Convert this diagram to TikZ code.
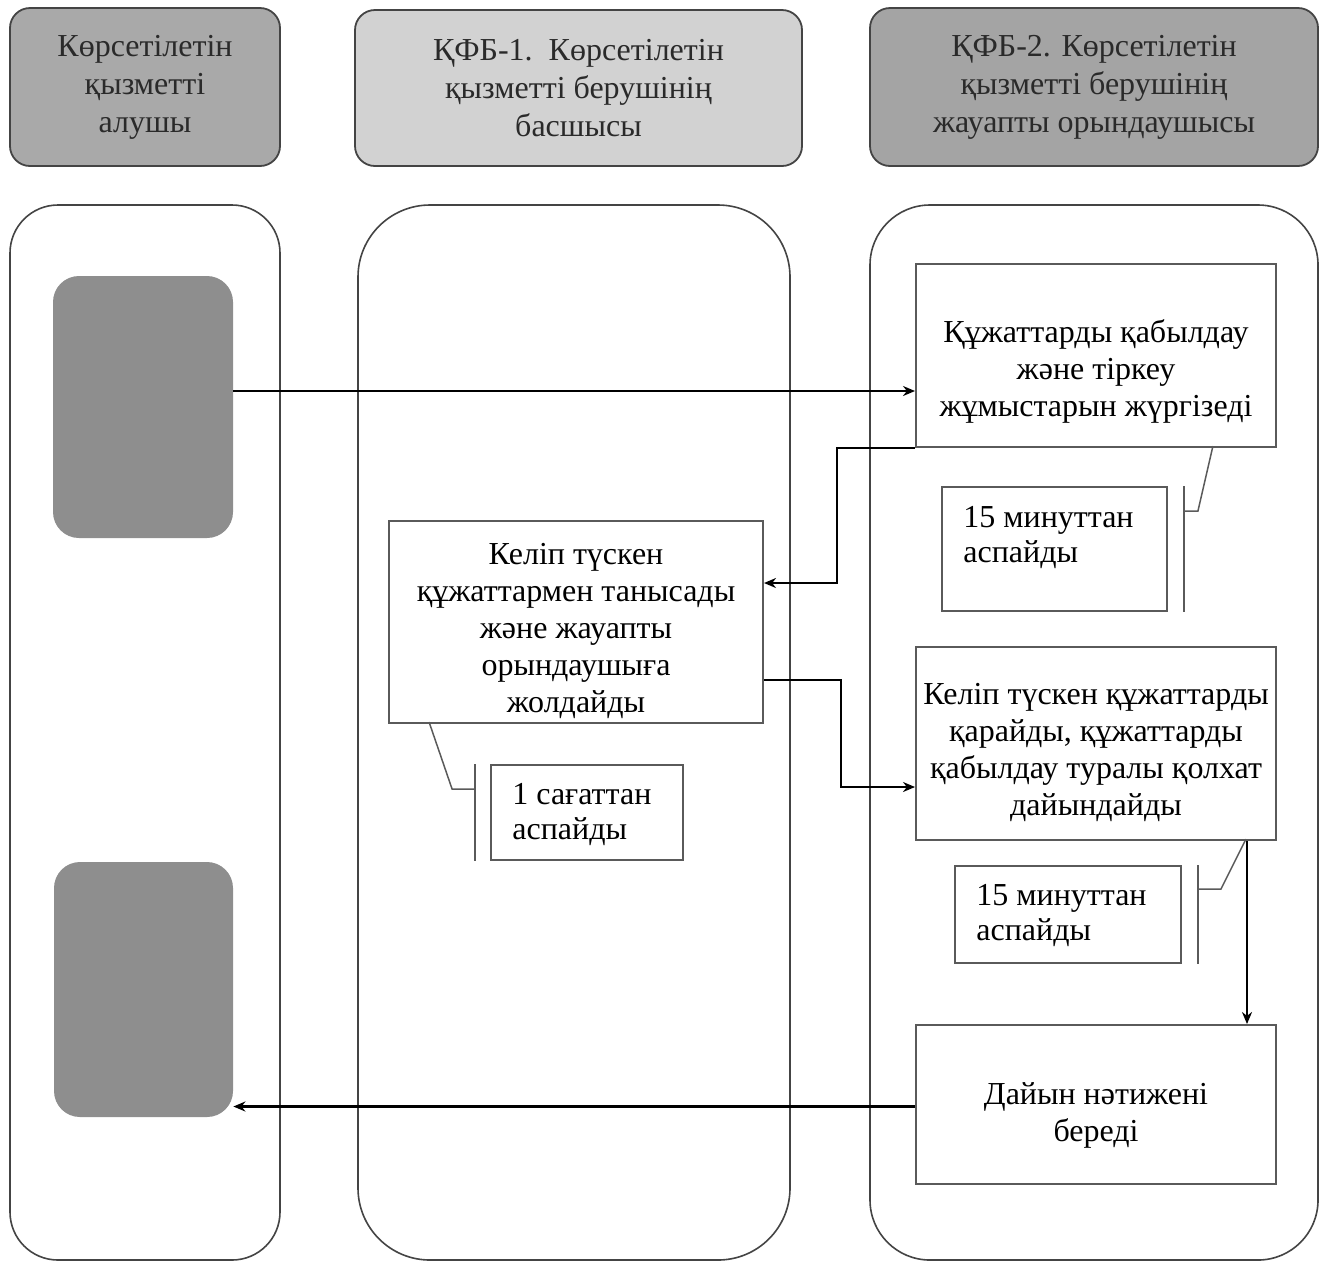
\documentclass[tikz,border=0pt]{standalone}
\usepackage{fontspec}
\setmainfont{Liberation Serif}
\usetikzlibrary{arrows.meta}
\definecolor{hdrA}{HTML}{A9A9A9}
\definecolor{hdrB}{HTML}{D2D2D2}
\definecolor{hdrC}{HTML}{A4A4A4}
\definecolor{blk}{HTML}{8E8E8E}
\definecolor{edge}{HTML}{444444}
\definecolor{boxedge}{HTML}{5A5A5A}
\definecolor{hdrtext}{HTML}{2A2A2A}
\tikzset{
  hdr/.style={draw=edge, line width=0.9pt, rounded corners=10pt, align=center,
    font=\fontsize{16}{19}\selectfont, text=hdrtext, inner sep=0pt},
  lane/.style={draw=edge, line width=0.8pt, inner sep=0pt},
  grayblk/.style={fill=blk, draw=none, rounded corners=13pt, inner sep=0pt},
  stepbox/.style={draw=boxedge, line width=1pt, align=center, inner sep=0pt,
    font=\fontsize{16}{18.5}\selectfont},
  timebox/.style={draw=boxedge, line width=0.9pt, inner sep=0pt},
  timetext/.style={align=left, anchor=north west, inner sep=0pt,
    font=\fontsize{16}{17.5}\selectfont},
  arr/.style={draw=black, line width=1.3pt, -{Stealth[length=6pt,width=5pt]}},
  br/.style={draw=boxedge, line width=0.75pt}
}
\begin{document}
\begin{tikzpicture}[x=0.5pt,y=-0.5pt]
\useasboundingbox (0,0) rectangle (1326,1265);
% headers
\node[hdr, fill=hdrA, minimum width=135pt, minimum height=79pt] (h1) at (145,87)
  {Көрсетілетін\\қызметті\\алушы};
\node[hdr, fill=hdrB, minimum width=223.5pt, minimum height=78pt] (h2) at (578.5,88)
  {ҚФБ-1.\ \ Көрсетілетін\\қызметті берушінің\\басшысы};
\node[hdr, fill=hdrC, minimum width=224pt, minimum height=79pt] (h3) at (1094,87)
  {ҚФБ-2. Көрсетілетін\\қызметті берушінің\\жауапты орындаушысы};
% lanes
\node[lane, rounded corners=24pt, minimum width=135pt, minimum height=527.5pt] (l1) at (145,732.5) {};
\node[lane, rounded corners=36pt, minimum width=216pt, minimum height=527.5pt] (l2) at (574,732.5) {};
\node[lane, rounded corners=30pt, minimum width=224pt, minimum height=527.5pt] (l3) at (1094,732.5) {};
% gray blocks
\node[grayblk, minimum width=90pt, minimum height=131pt] (g1) at (143,407) {};
\node[grayblk, minimum width=89.5pt, minimum height=127.5pt] (g2) at (143.5,989.5) {};
% step boxes
\node[stepbox, minimum width=180pt, minimum height=91.5pt] (b1) at (1096,355.5) {};
\node[stepbox, draw=none, anchor=center] (b1t) at (1096,371)
  {Құжаттарды қабылдау\\және тіркеу\\жұмыстарын жүргізеді};
\node[stepbox, minimum width=187pt, minimum height=101pt] (b2) at (576,622) {};
\node[stepbox, draw=none] (b2t) at (576,631)
  {Келіп түскен\\құжаттармен танысады\\және жауапты\\орындаушыға\\жолдайды};
\node[stepbox, minimum width=180pt, minimum height=96.5pt] (b3) at (1096,743.5) {};
\node[stepbox, draw=none] (b3t) at (1096,752)
  {Келіп түскен құжаттарды\\қарайды, құжаттарды\\қабылдау туралы қолхат\\дайындайды};
\node[stepbox, minimum width=180pt, minimum height=79.5pt] (b4) at (1096,1104.5) {};
\node[stepbox, draw=none] (b4t) at (1096,1115) {Дайын нәтижені\\береді};
% time boxes
\node[timebox, minimum width=112.5pt, minimum height=62pt] (t1) at (1054.5,549) {};
\node[timetext] (t1t) at (963,506) {15 минуттан\\аспайды};
\node[timebox, minimum width=96pt, minimum height=47.5pt] (t2) at (587,812.5) {};
\node[timetext] (t2t) at (512,783) {1 сағаттан\\аспайды};
\node[timebox, minimum width=113pt, minimum height=48.5pt] (t3) at (1068,914.5) {};
\node[timetext] (t3t) at (976,884) {15 минуттан\\аспайды};
% brackets
\draw[br] ([xshift=8pt]t1.north east) -- ([xshift=8pt]t1.south east);
\draw[br] ([xshift=8pt,yshift=-12.5pt]t1.north east) -- ++(14,0) -- ++(15,-65);
\draw[br] ([xshift=-7.5pt]t2.north west) -- ([xshift=-7.5pt]t2.south west);
\draw[br] ([xshift=-7.5pt,yshift=-12.5pt]t2.north west) -- ++(-23,0) -- ++(-23,-67);
\draw[br] ([xshift=8pt]t3.north east) -- ([xshift=8pt]t3.south east);
\draw[br] ([xshift=8pt,yshift=-12pt]t3.north east) -- ++(23,0) -- ++(25,-50);
% connectors
\draw[arr] ([yshift=8pt]g1.east) coordinate (a1s) -- (a1s -| b1.west);
\draw[arr] (b1.south west) -- ++(-78,0) |- ([yshift=19.5pt]b2.east);
\draw[arr] ([yshift=-29pt]b2.east) -- ++(77,0) |- ([yshift=-21.75pt]b3.west);
\draw[arr] ([xshift=75.5pt]b3.south) coordinate (a4s) -- (a4s |- b4.north);
\draw[arr] ([yshift=-1pt]b4.west) coordinate (a5s) -- (a5s -| g2.east);
\end{tikzpicture}
\end{document}
